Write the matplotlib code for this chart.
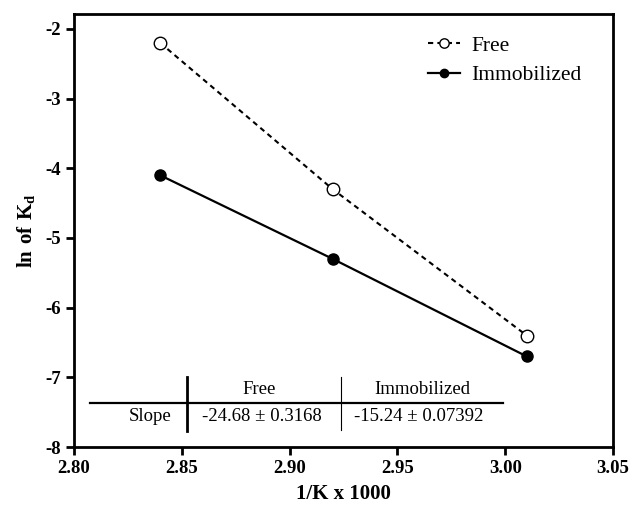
import matplotlib
matplotlib.use("Agg")
import matplotlib.pyplot as plt

x_vals = [2.84, 2.92, 3.01]
free_vals = [-2.2, -4.3, -6.4]
immob_vals = [-4.1, -5.3, -6.7]
x_ticks = [2.80, 2.85, 2.90, 2.95, 3.00, 3.05]
y_ticks = [-8, -7, -6, -5, -4, -3, -2]
table_cols = ["Free", "Immobilized"]
table_row = "Slope"
table_vals = ["-24.68 \u00b1 0.3168", "-15.24 \u00b1 0.07392"]

plt.rcParams['font.family'] = ['Liberation Serif', 'DejaVu Serif']
plt.rcParams['mathtext.fontset'] = 'custom'
plt.rcParams['mathtext.rm'] = 'Liberation Serif'
plt.rcParams['mathtext.bf'] = 'Liberation Serif:bold'

fig = plt.figure(figsize=(6.3, 5.09), dpi=100)
ax = fig.add_axes([74/630, 1-447/509, (613-74)/630, (447-14)/509])

ax.plot(x_vals, free_vals, linestyle=(0, (2.5, 2)), color='black', lw=1.5,
        marker='o', markersize=9, markerfacecolor='white', markeredgecolor='black',
        markeredgewidth=1.0, label='Free')
ax.plot(x_vals, immob_vals, linestyle='-', color='black', lw=1.6,
        marker='o', markersize=8, markerfacecolor='black', markeredgecolor='black',
        label='Immobilized')

ax.set_xlim(2.80, 3.05)
ax.set_ylim(-8, -1.785)
ax.set_xticks(x_ticks)
ax.set_xticklabels([f"{t:.2f}" for t in x_ticks])
ax.set_yticks(y_ticks)
ax.set_yticklabels([str(t) for t in y_ticks])
for lab in ax.get_xticklabels() + ax.get_yticklabels():
    lab.set_fontweight('bold')
    lab.set_fontsize(13.5)
ax.tick_params(direction='out', length=6, width=2)
for s in ax.spines.values():
    s.set_linewidth(2)

ax.set_xlabel("1/K x 1000", fontsize=15, fontweight='bold', labelpad=5)
ax.set_ylabel(r"$\mathbf{ln\ of\ K_d}$", fontsize=15, labelpad=6)

leg = ax.legend(loc='upper left', bbox_to_anchor=(0.657, 0.95), frameon=False,
                fontsize=15.5, handlelength=1.5, handletextpad=0.5, labelspacing=0.45,
                borderpad=0, borderaxespad=0, markerscale=0.75)

# table
ax.plot([2.8074, 2.999], [-7.366, -7.366], color='black', lw=1.6)
ax.plot([2.8524, 2.8524], [-6.993, -7.768], color='black', lw=2.0)
ax.plot([2.9238, 2.9238], [-6.993, -7.753], color='black', lw=0.8)
ax.text(2.8858, -7.18, table_cols[0], ha='center', va='center', fontsize=13.5)
ax.text(2.9614, -7.18, table_cols[1], ha='center', va='center', fontsize=13.5)
ax.text(2.8353, -7.567, table_row, ha='center', va='center', fontsize=13.5)
ax.text(2.8872, -7.567, table_vals[0], ha='center', va='center', fontsize=13.5)
ax.text(2.960, -7.567, table_vals[1], ha='center', va='center', fontsize=13.5)

fig.savefig("out.png", dpi=100)
